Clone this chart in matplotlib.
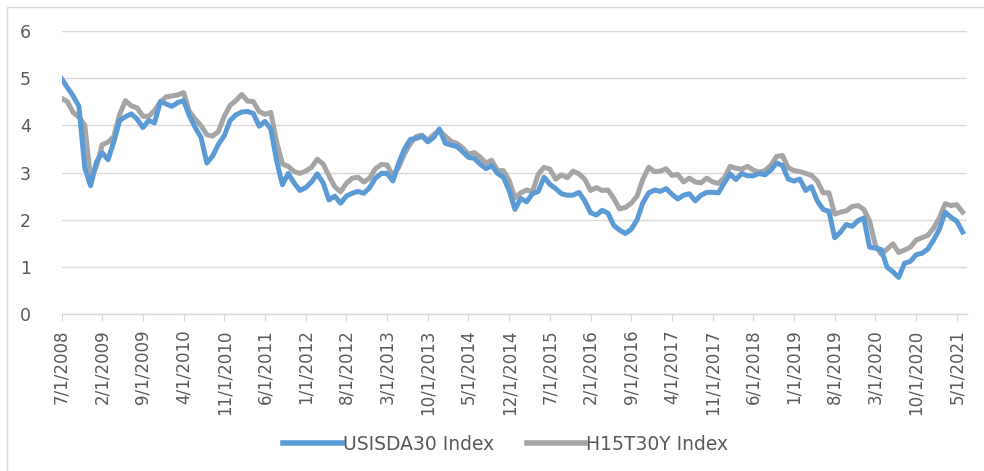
import matplotlib
matplotlib.use("Agg")
import matplotlib.pyplot as plt
import pandas as pd
from matplotlib.patches import Rectangle

dates = pd.date_range("2008-07-01", "2021-06-01", freq="MS")
date_labels = [f"{d.month}/{d.day}/{d.year}" for d in dates]

usisda30 = [
    4.99, 4.80, 4.62, 4.40, 3.10, 2.72,
    3.22, 3.42, 3.27, 3.65, 4.10, 4.18, 4.24, 4.13, 3.95, 4.10, 4.05, 4.50,
    4.45, 4.40, 4.48, 4.52, 4.20, 3.95, 3.74, 3.20, 3.35, 3.60, 3.78, 4.10,
    4.22, 4.28, 4.29, 4.25, 3.98, 4.08, 3.92, 3.25, 2.74, 2.98, 2.78, 2.62,
    2.68, 2.80, 2.97, 2.78, 2.42, 2.50, 2.35, 2.50, 2.56, 2.60, 2.56, 2.68,
    2.88, 2.98, 2.98, 2.82, 3.20, 3.50, 3.70, 3.72, 3.77, 3.65, 3.74, 3.92,
    3.62, 3.58, 3.55, 3.44, 3.32, 3.30, 3.18, 3.08, 3.15, 2.98, 2.90, 2.62,
    2.22, 2.45, 2.38, 2.55, 2.60, 2.90, 2.75, 2.66, 2.55, 2.52, 2.52, 2.58,
    2.40, 2.15, 2.10, 2.20, 2.14, 1.88, 1.78, 1.71, 1.80, 2.00, 2.36, 2.57,
    2.63, 2.60, 2.66, 2.54, 2.44, 2.52, 2.55, 2.40, 2.52, 2.58, 2.58, 2.57,
    2.78, 2.97, 2.85, 2.98, 2.93, 2.93, 2.98, 2.95, 3.05, 3.20, 3.15, 2.86,
    2.82, 2.86, 2.62, 2.70, 2.40, 2.22, 2.18, 1.62, 1.74, 1.90, 1.86, 1.98,
    2.04, 1.42, 1.40, 1.37, 1.00, 0.90, 0.78, 1.08, 1.12, 1.26, 1.29, 1.38,
    1.57, 1.80, 2.16, 2.05, 1.97, 1.74,
]

h15t30y = [
    4.57, 4.50, 4.27, 4.17, 4.00, 2.87,
    3.13, 3.59, 3.64, 3.76, 4.23, 4.52, 4.41, 4.37, 4.19, 4.19, 4.31, 4.49,
    4.60, 4.62, 4.64, 4.69, 4.29, 4.13, 3.99, 3.80, 3.77, 3.87, 4.19, 4.42,
    4.52, 4.65, 4.51, 4.50, 4.29, 4.23, 4.27, 3.65, 3.18, 3.13, 3.02, 2.98,
    3.03, 3.11, 3.28, 3.18, 2.93, 2.70, 2.59, 2.77, 2.88, 2.90, 2.80, 2.88,
    3.08, 3.17, 3.16, 2.93, 3.11, 3.40, 3.61, 3.76, 3.79, 3.68, 3.80, 3.89,
    3.77, 3.66, 3.62, 3.52, 3.39, 3.42, 3.33, 3.20, 3.26, 3.04, 3.04, 2.83,
    2.46, 2.57, 2.63, 2.59, 2.96, 3.11, 3.07, 2.86, 2.95, 2.89, 3.03, 2.97,
    2.86, 2.62, 2.68, 2.62, 2.63, 2.45, 2.23, 2.26, 2.35, 2.50, 2.86, 3.11,
    3.02, 3.03, 3.08, 2.94, 2.96, 2.80, 2.88, 2.80, 2.78, 2.88, 2.80, 2.77,
    2.88, 3.13, 3.09, 3.07, 3.13, 3.05, 3.01, 3.04, 3.15, 3.34, 3.36, 3.10,
    3.04, 3.02, 2.98, 2.94, 2.82, 2.57, 2.57, 2.12, 2.16, 2.19, 2.28, 2.30,
    2.22, 1.97, 1.46, 1.27, 1.38, 1.49, 1.31, 1.36, 1.42, 1.57, 1.62, 1.67,
    1.82, 2.04, 2.34, 2.30, 2.32, 2.16,
]

series_names = ["USISDA30 Index", "H15T30Y Index"]
y_ticks = [0, 1, 2, 3, 4, 5, 6]

plt.rcParams['font.family'] = ['DejaVu Sans']
W, H = 984, 471
fig = plt.figure(figsize=(W / 100, H / 100), dpi=100)
fig.patch.set_facecolor("white")

# chart-area border
fig.add_artist(Rectangle((7 / W, -0.1), 1.2, (1 - 7 / H) + 0.1,
                         transform=fig.transFigure, fill=False,
                         edgecolor="#D9D9D9", linewidth=1.0))

left, right = 61.5 / W, 966.7 / W
bottom, top = 1 - 314.3 / H, 1 - 30.7 / H
ax = fig.add_axes([left, bottom, right - left, top - bottom])

x = list(range(len(dates)))
ax.plot(x, usisda30, color="#5B9BD5", linewidth=3.6, solid_joinstyle="round",
        label=series_names[0], zorder=3)
ax.plot(x, h15t30y, color="#A5A5A5", linewidth=3.6, solid_joinstyle="round",
        label=series_names[1], zorder=2)

ax.set_ylim(0, 6)
ax.set_xlim(0, 155.7)
ax.set_yticks(y_ticks)
ax.set_yticklabels([str(v) for v in y_ticks])
ax.yaxis.grid(True, color="#D9D9D9", linewidth=1.0)
ax.set_axisbelow(True)
for s in ["top", "right", "left"]:
    ax.spines[s].set_visible(False)
ax.spines["bottom"].set_color("#D9D9D9")
ax.spines["bottom"].set_linewidth(1.0)

tick_pos = x[::7]
ax.set_xticks(tick_pos)
ax.set_xticklabels([date_labels[i] for i in tick_pos], rotation=90,
                   fontsize=12, color="#595959")
ax.tick_params(axis="x", length=5, color="#D9D9D9", pad=6)
ax.tick_params(axis="y", length=0, pad=22, labelsize=12.5, labelcolor="#595959")

leg = fig.legend(loc="center", bbox_to_anchor=(506 / W, 1 - 444 / H),
                 ncol=2, frameon=False, fontsize=13.5,
                 handlelength=3.1, handletextpad=0.1, columnspacing=1.7)
for t in leg.get_texts():
    t.set_color("#595959")
for l in leg.get_lines():
    l.set_linewidth(4)

fig.savefig("out.png", dpi=100, facecolor="white")
